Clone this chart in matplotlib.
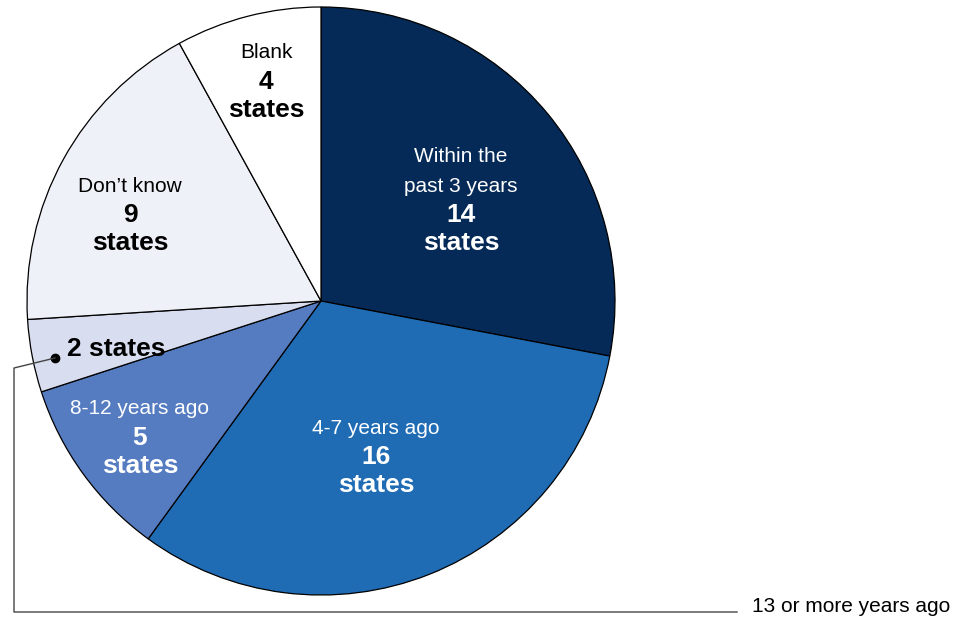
import matplotlib.pyplot as plt

plt.rcParams['font.family'] = ['Liberation Sans', 'DejaVu Sans']

# data, clockwise from the top
labels = ["Within the\npast 3 years", "4-7 years ago", "8-12 years ago",
          "13 or more years ago", "Don\u2019t know", "Blank"]
counts = [14, 16, 5, 2, 9, 4]
colors = ["#052a57", "#1f6cb5", "#557cc1", "#d8ddef", "#eff1f8", "#ffffff"]
text_colors = ["white", "white", "white", "black", "black", "black"]

W, H = 964, 618
fig = plt.figure(figsize=(W / 100, H / 100), dpi=100)
ax = fig.add_axes([0, 0, 1, 1])
ax.set_xlim(0, W)
ax.set_ylim(0, H)
ax.set_aspect('equal')
ax.axis('off')

cx, cy, r = 321, H - 301, 294
ax.pie(counts, colors=colors, startangle=90, counterclock=False,
       center=(cx, cy), radius=r,
       wedgeprops=dict(edgecolor='black', linewidth=0.9))
ax.set_xlim(0, W)
ax.set_ylim(0, H)

# label positions in image pixels (x, y of first line)
pos = {0: (461, 157), 1: (376, 428), 2: (140, 409), 4: (130, 186), 5: (266, 53)}
for i, (x, y) in pos.items():
    lines = labels[i].split("\n")
    yy = y
    for ln in lines:
        ax.text(x, H - yy, ln, ha='center', va='center', fontsize=15,
                color=text_colors[i])
        yy += 29
    ax.text(x, H - yy, str(counts[i]), ha='center', va='center', fontsize=19,
            fontweight='bold', color=text_colors[i])
    ax.text(x, H - yy - 28, "states", ha='center', va='center', fontsize=19,
            fontweight='bold', color=text_colors[i])

# small slice callout
ax.text(67, H - 349, f"{counts[3]} states", ha='left', va='center', fontsize=19,
        fontweight='bold', color='black')
ax.plot([55], [H - 358], 'o', color='black', markersize=6)
ax.plot([55, 14, 14, 737], [H - 358, H - 368, H - 612, H - 612],
        color='#444444', linewidth=1)
ax.text(752, H - 606, labels[3], ha='left', va='center', fontsize=15,
        color='black')

fig.savefig("out.png", dpi=100)
